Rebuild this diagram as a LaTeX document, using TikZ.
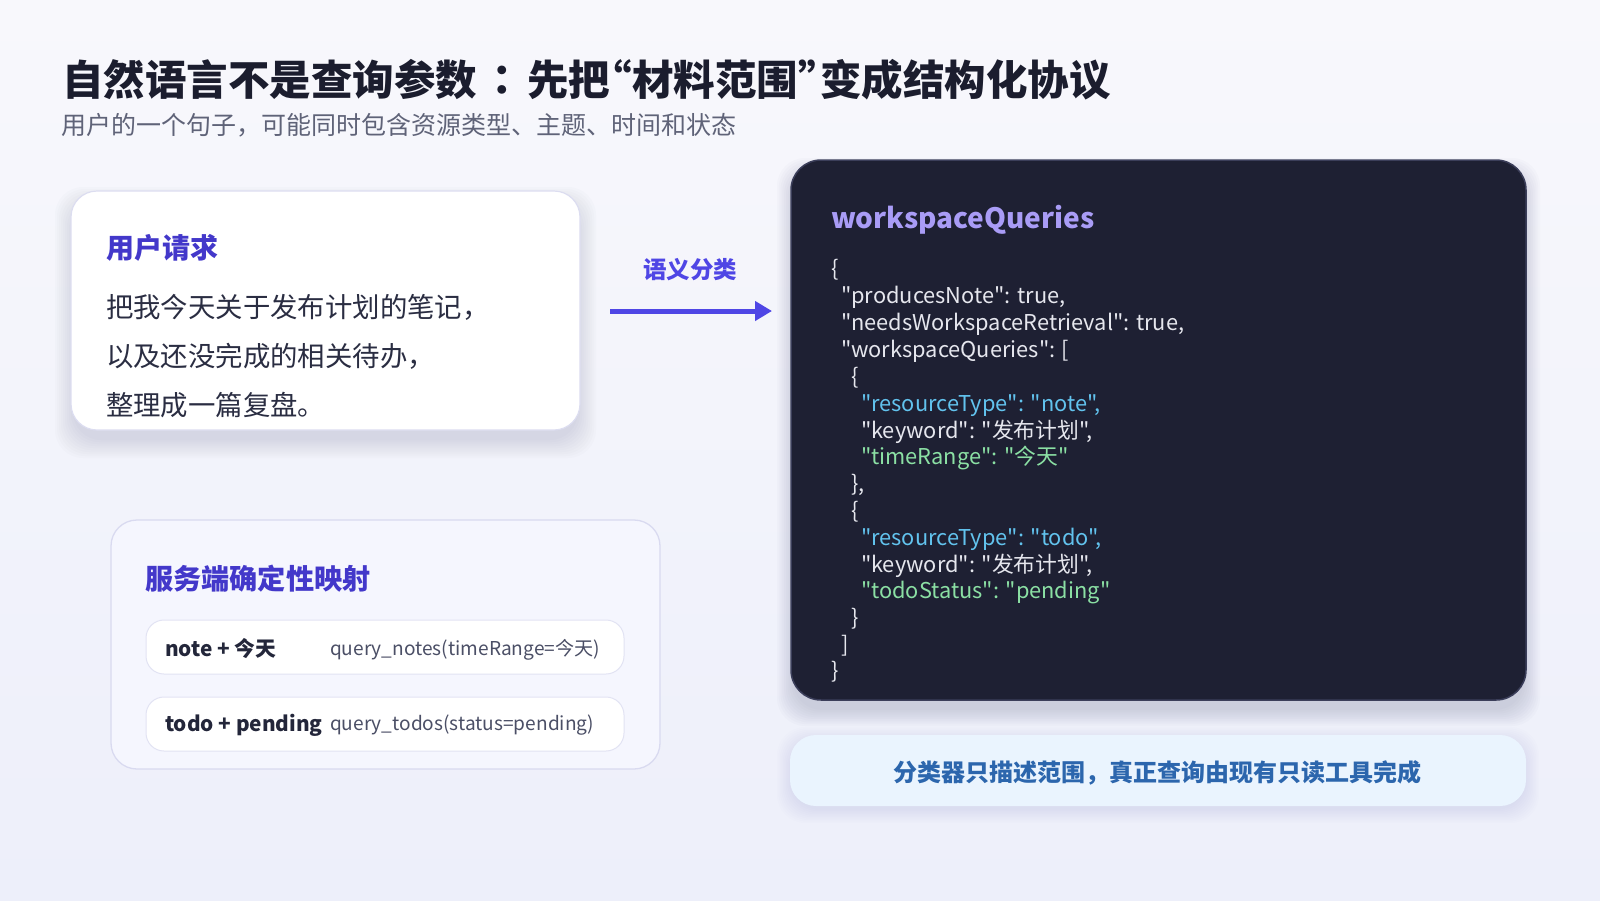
\documentclass[tikz,border=0pt]{standalone}
\usepackage{fontspec}
\setmainfont{Noto Sans CJK SC}
\newfontfamily\cjk{Noto Sans CJK SC}
\newfontfamily\cjkjp{Noto Sans CJK JP}
\usetikzlibrary{arrows.meta}
\definecolor{bgtop}{HTML}{F8F8FC}
\definecolor{bgbot}{HTML}{EDEFFA}
\definecolor{titlec}{HTML}{1B1D2E}
\definecolor{subc}{HTML}{5F6378}
\definecolor{indigo}{HTML}{4338CA}
\definecolor{arrowc}{HTML}{4F46E5}
\definecolor{bodyc}{HTML}{2A2D42}
\definecolor{cardline}{HTML}{DCDDF0}
\definecolor{mapfill}{HTML}{F5F6FE}
\definecolor{mapline}{HTML}{D9DAF0}
\definecolor{rowline}{HTML}{E2E3F3}
\definecolor{rowkey}{HTML}{23263A}
\definecolor{rowval}{HTML}{4B4F66}
\definecolor{darkfill}{HTML}{1E2033}
\definecolor{darkline}{HTML}{3B3E5A}
\definecolor{wsc}{HTML}{A99CF6}
\definecolor{codew}{HTML}{E6E7EE}
\definecolor{codeb}{HTML}{62C3EE}
\definecolor{codeg}{HTML}{8BE0A4}
\definecolor{notefill}{HTML}{EAF4FE}
\definecolor{notec}{HTML}{2C66AD}
\definecolor{shadowc}{HTML}{5A5F8C}
\newcommand\softshadow[6]{%
  \foreach \i in {1,...,10}{%
    \fill[shadowc,opacity=#5,rounded corners=28pt]
      ({#1-#6*\i},{#2+12-#6*\i}) rectangle ({#3+#6*\i},{#4+12+#6*\i});}}
\tikzset{
  txt/.style={inner sep=0pt,outer sep=0pt,anchor=base west,font=\cjk},
  code/.style={txt,text=codew,font=\cjk\fontsize{21.8}{27}\selectfont},
  box/.style={inner sep=0pt,outer sep=0pt,anchor=north west},
}
\begin{document}
\begin{tikzpicture}[x=1pt,y=-1pt]
\shade[top color=bgtop,bottom color=bgbot] (0,0) rectangle (1600,900);
\useasboundingbox (0,0) rectangle (1600,900);

% title
\node[txt,text=titlec,font=\cjk\bfseries\fontsize{41.5}{48}\selectfont] (title) at (62,95) {自然语言不是查询参数\makebox[50pt]{\cjkjp\bfseries ：}先把\makebox[22pt][r]{“}材料范围\makebox[22pt][l]{”}变成结构化协议};
\node[txt,text=subc,font=\cjk\fontsize{25}{30}\selectfont] (sub) at (61,134) {用户的一个句子，可能同时包含资源类型、主题、时间和状态};

% user request card
\softshadow{75}{195}{576}{426}{0.02}{2}
\node[box,draw=cardline,line width=1.2pt,fill=white,rounded corners=26pt,minimum width=509pt,minimum height=239pt] (req) at (71,191) {};
\node[txt,text=indigo,font=\cjk\bfseries\fontsize{28}{32}\selectfont] (reqh) at (106,258) {用户请求};
\node[txt,text=bodyc,font=\cjk\fontsize{27.4}{32}\selectfont] (l1) at (106,317) {把我今天关于发布计划的笔记，};
\node[txt,text=bodyc,font=\cjk\fontsize{27.4}{32}\selectfont] (l2) at (106,366) {以及还没完成的相关待办，};
\node[txt,text=bodyc,font=\cjk\fontsize{27.4}{32}\selectfont] (l3) at (106,415) {整理成一篇复盘。};

% arrow
\coordinate (a1) at (610,311);
\coordinate (a2) at (772,311);
\draw[arrowc,line width=5pt,-{Triangle[length=17pt,width=19pt]}] (a1) -- (a2);
\node[txt,anchor=base,text=arrowc,font=\cjk\bfseries\fontsize{23.5}{28}\selectfont] (alab) at (690,278) {语义分类};

% mapping box
\node[box,draw=mapline,line width=1.3pt,fill=mapfill,rounded corners=26pt,minimum width=549pt,minimum height=249pt] (map) at (111,520) {};
\node[txt,text=indigo,font=\cjk\bfseries\fontsize{28.2}{32}\selectfont] (maph) at (145,589) {服务端确定性映射};
\node[box,draw=rowline,line width=1pt,fill=white,rounded corners=18pt,minimum width=478pt,minimum height=54pt] (row1) at (146,620) {};
\node[box,draw=rowline,line width=1pt,fill=white,rounded corners=18pt,minimum width=478pt,minimum height=54pt] (row2) at (146,697) {};
\node[txt,text=rowkey,font=\cjk\bfseries\fontsize{20.8}{26}\selectfont] (k1) at (165,656) {note + 今天};
\node[txt,text=rowval,font=\cjk\fontsize{19.1}{24}\selectfont] (v1) at (330,655) {query\_notes(timeRange=今天)};
\node[txt,text=rowkey,font=\cjk\bfseries\fontsize{20.8}{26}\selectfont] (k2) at (165,731) {todo + pending};
\node[txt,text=rowval,font=\cjk\fontsize{19.1}{24}\selectfont] (v2) at (330,730) {query\_todos(status=pending)};

% dark code panel
\softshadow{795}{164}{1522}{696}{0.025}{1.8}
\node[box,draw=darkline,line width=1.5pt,fill=darkfill,rounded corners=30pt,minimum width=735pt,minimum height=540pt] (panel) at (791,160) {};
\node[txt,text=wsc,font=\cjk\bfseries\fontsize{28}{34}\selectfont] (ws) at (831,228) {workspaceQueries};
\node[code] (c0) at (831,276) {\{};
\node[code] (c1) at (841,303) {"producesNote": true,};
\node[code] (c2) at (841,330) {"needsWorkspaceRetrieval": true,};
\node[code] (c3) at (841,357) {"workspaceQueries": [};
\node[code] (c4) at (851,384) {\{};
\node[code,text=codeb] (c5) at (861,411) {"resourceType": "note",};
\node[code] (c6) at (861,438) {"keyword": "发布计划",};
\node[code,text=codeg] (c7) at (861,464) {"timeRange": "今天"};
\node[code] (c8) at (851,491) {\},};
\node[code] (c9) at (851,518) {\{};
\node[code,text=codeb] (c10) at (861,545) {"resourceType": "todo",};
\node[code] (c11) at (861,572) {"keyword": "发布计划",};
\node[code,text=codeg] (c12) at (861,598) {"todoStatus": "pending"};
\node[code] (c13) at (851,625) {\}};
\node[code] (c14) at (841,652) {]};
\node[code] (c15) at (831,678) {\}};

% note
\softshadow{792}{730}{1524}{796}{0.008}{1.5}
\node[box,fill=notefill,rounded corners=26pt,minimum width=736pt,minimum height=71pt] (note) at (790,735) {};
\node[txt,anchor=base,text=notec,font=\cjk\bfseries\fontsize{24}{30}\selectfont] (notet) at (1157,781) {分类器只描述范围，真正查询由现有只读工具完成};
\end{tikzpicture}
\end{document}
